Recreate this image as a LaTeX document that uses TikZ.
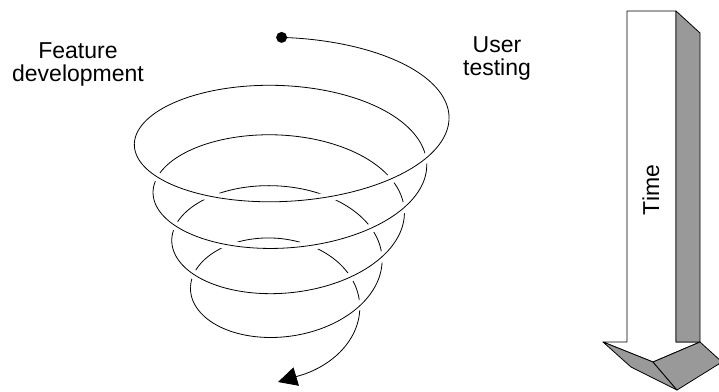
\documentclass[tikz,border=0pt]{standalone}
\usepackage{fontspec}
\setmainfont{Liberation Sans}
\usetikzlibrary{arrows.meta}

\begin{document}
\begin{tikzpicture}[x=1pt, y=-1pt, line join=round,
    every node/.style={font=\fontsize{23}{23}\selectfont, align=center, inner sep=0pt},
    declare function={
      spx(\t) = 287 - 0.005*\t + (162 - 0.057*\t)*cos(\t);
      spy(\t) = 119.5 + 0.1326*\t + (70 - 0.055*(\t/100)^2)*sin(\t);
    },
    coil/.style={line width=0.8pt},
    coilfront/.style={coil, preaction={draw=white, line width=9pt}},
    facet/.style={draw=black, line width=0.8pt, fill=black!40},
  ]
  \useasboundingbox (0,0) rectangle (719,391);

  % --- 1. spiral ---
  % back halves first
  \foreach \a/\b in {-92/0, 180/360, 540/720, 900/1080, 1260/1440}
    \draw[coil] plot[domain=\a:\b, samples=90, variable=\t] ({spx(\t)},{spy(\t)});
  % front halves on top, the white halo cuts the lines behind
  \foreach \a/\b in {0/180, 360/540, 720/900, 1080/1260, 1440/1512}
    \draw[coilfront] plot[domain=\a:\b, samples=90, variable=\t] ({spx(\t)},{spy(\t)});

  % start dot and end arrow
  \coordinate (start) at ({spx(-92)},{spy(-92)});
  \coordinate (tail)  at ({spx(1512)},{spy(1512)});
  \coordinate (tip)   at (278,382);
  \fill (start) circle (5.5pt);
  \draw[coil, -{Triangle[length=19pt, width=19pt]}] (tail) -- (tip);

  % --- 2. labels ---
  \node[anchor=north] (feature) at (78,42.5) {Feature\\development};
  \node[anchor=north] (testing) at (497,36) {User\\testing};

  % --- 3. time arrow ---
  \coordinate (sTL) at (627,11);
  \coordinate (sTR) at (676,11);
  \coordinate (sBR) at (676,342);
  \coordinate (sBL) at (627,342);
  \coordinate (gT)  at (700,33);
  \coordinate (gB)  at (700,342);
  \coordinate (hL)  at (603,342);
  \coordinate (hM)  at (653,362);
  \coordinate (hLL) at (631,367);
  \coordinate (hTip) at (677,390);
  \coordinate (hR)  at (722,362);

  \filldraw[line width=0.8pt, fill=white] (sTL) -- (sTR) -- (sBR) -- (gB) -- (hM) -- (hL) -- (sBL) -- cycle;
  \draw[facet] (sTR) -- (gT) -- (gB) -- (sBR) -- cycle;
  \draw[facet] (hL) -- (hM) -- (hTip) -- (hLL) -- cycle;
  \draw[facet] (hM) -- (gB) -- (hR) -- (hTip) -- cycle;

  \node[rotate=90] (time) at (651,190) {Time};
\end{tikzpicture}
\end{document}
